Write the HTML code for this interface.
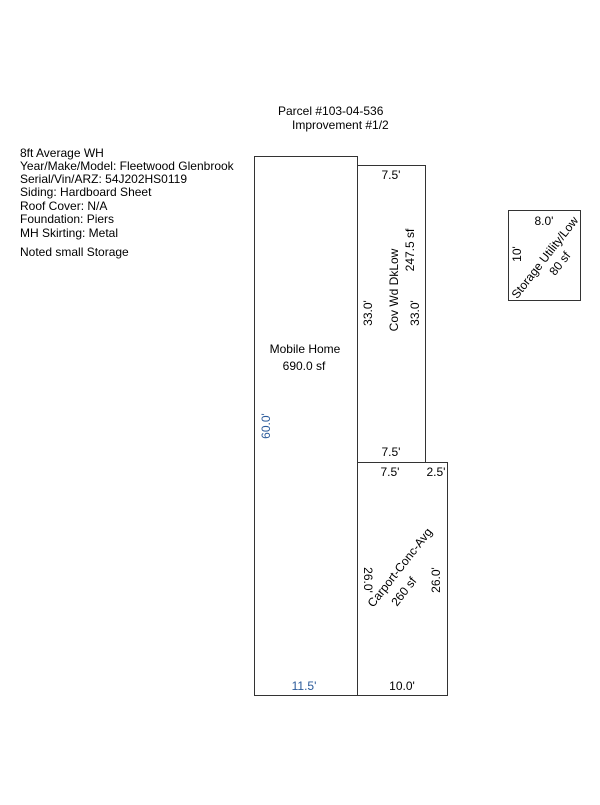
<!DOCTYPE html>
<html><head><style>body{margin:0;background:#fff}</style></head><body>
<svg width="600" height="800" xmlns="http://www.w3.org/2000/svg" font-family="Liberation Sans, sans-serif" font-size="12" fill="#000">
<g fill="none" stroke="#333" stroke-width="1">
<rect x="254.5" y="156.5" width="103" height="539"/>
<rect x="357.5" y="165.5" width="68" height="297"/>
<rect x="357.5" y="462.5" width="90" height="233"/>
<rect x="508.5" y="210.5" width="72" height="90"/>
</g>
<text x="278" y="115">Parcel #103-04-536</text>
<text x="292" y="129">Improvement #1/2</text>
<g>
<text x="20" y="157">8ft Average WH</text>
<text x="20" y="170">Year/Make/Model: Fleetwood Glenbrook</text>
<text x="20" y="183">Serial/Vin/ARZ: 54J202HS0119</text>
<text x="20" y="196">Siding: Hardboard Sheet</text>
<text x="20" y="210">Roof Cover:  N/A</text>
<text x="20" y="223">Foundation: Piers</text>
<text x="20" y="237">MH Skirting: Metal</text>
<text x="20" y="256">Noted small Storage</text>
</g>
<text x="305" y="353" text-anchor="middle">Mobile Home</text>
<text x="304" y="370" text-anchor="middle">690.0 sf</text>
<text transform="translate(270,426) rotate(-90)" text-anchor="middle" fill="#2a5a9a">60.0'</text>
<text x="304" y="690" text-anchor="middle" fill="#2a5a9a">11.5'</text>
<text x="391" y="179" text-anchor="middle">7.5'</text>
<text x="391" y="456" text-anchor="middle">7.5'</text>
<text transform="translate(372,313) rotate(-90)" text-anchor="middle">33.0'</text>
<text transform="translate(419,313) rotate(-90)" text-anchor="middle">33.0'</text>
<text transform="translate(398,290) rotate(-90)" text-anchor="middle">Cov Wd DkLow</text>
<text transform="translate(414,250) rotate(-90)" text-anchor="middle">247.5 sf</text>
<text x="390" y="476" text-anchor="middle">7.5'</text>
<text x="436" y="476" text-anchor="middle">2.5'</text>
<text transform="translate(364,580) rotate(90)" text-anchor="middle">26.0'</text>
<text transform="translate(440,580) rotate(-90)" text-anchor="middle">26.0'</text>
<text transform="translate(403,570) rotate(-52)" text-anchor="middle">Carport-Conc-Avg</text>
<text transform="translate(407,594) rotate(-52)" text-anchor="middle">260 sf</text>
<text x="402" y="690" text-anchor="middle">10.0'</text>
<text x="544" y="225" text-anchor="middle">8.0'</text>
<text transform="translate(521,254) rotate(-90)" text-anchor="middle">10'</text>
<text transform="translate(548,260) rotate(-52)" text-anchor="middle">Storage Utility/Low</text>
<text transform="translate(563,266) rotate(-52)" text-anchor="middle">80 sf</text>
</svg>
</body></html>
